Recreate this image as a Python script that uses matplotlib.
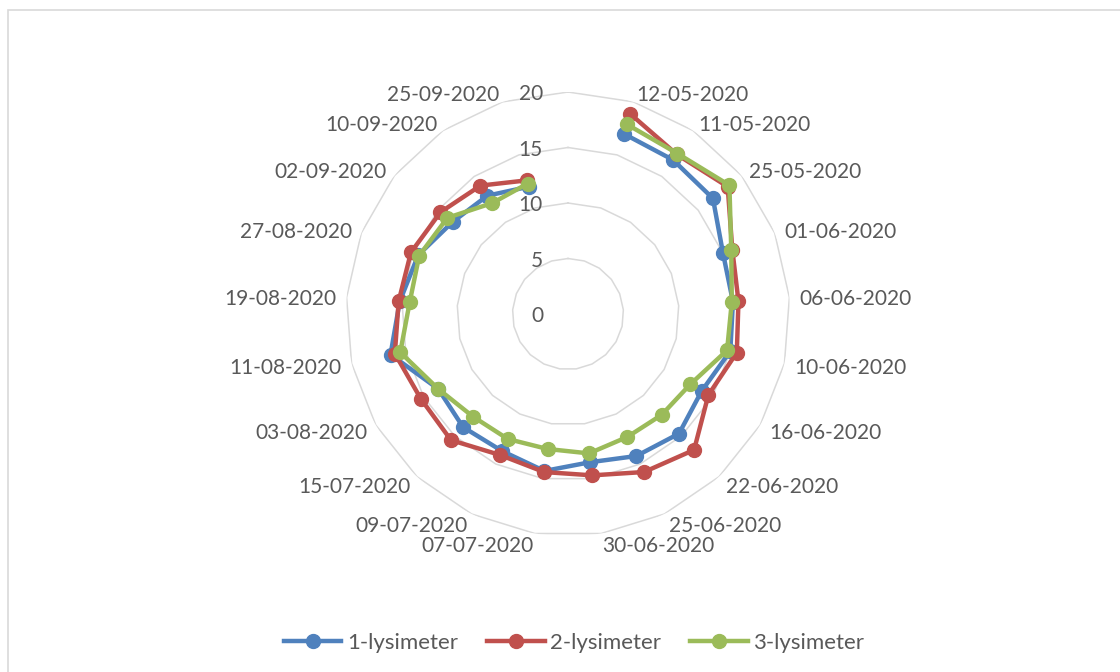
import numpy as np
import matplotlib
matplotlib.use("Agg")
import matplotlib.pyplot as plt
from matplotlib.patches import Rectangle

plt.rcParams['font.family'] = ['Lato', 'DejaVu Sans']

# Categories (first one is blank in the source sheet, so the series have a gap at the top)
dates = ['', '12-05-2020', '11-05-2020', '25-05-2020', '01-06-2020', '06-06-2020',
         '10-06-2020', '16-06-2020', '22-06-2020', '25-06-2020', '30-06-2020',
         '07-07-2020', '09-07-2020', '15-07-2020', '03-08-2020', '11-08-2020',
         '19-08-2020', '27-08-2020', '02-09-2020', '10-09-2020', '25-09-2020']

lys1 = [np.nan, 17.0, 16.8, 16.7, 15.0, 14.9, 15.0, 13.9, 14.7, 14.2, 13.5,
        14.3, 13.7, 13.9, 13.5, 16.4, 15.2, 14.5, 13.3, 12.9, 12.0]
lys2 = [np.nan, 18.9, 17.4, 18.4, 15.9, 15.4, 15.6, 14.6, 16.7, 15.8, 14.7,
        14.4, 14.1, 15.5, 15.3, 16.0, 15.3, 15.2, 14.7, 14.0, 12.6]
lys3 = [np.nan, 17.9, 17.5, 18.6, 15.8, 14.8, 14.7, 12.7, 12.4, 12.3, 12.7,
        12.3, 12.5, 12.6, 13.5, 15.5, 14.3, 14.4, 13.9, 12.1, 12.3]

series_names = ['1-lysimeter', '2-lysimeter', '3-lysimeter']
colors = ['#4F81BD', '#C0504D', '#9BBB59']
rings = [0, 5, 10, 15, 20]

text_color = '#595959'
grid_color = '#D9D9D9'

n = len(dates)
angles = np.arange(n) * 2 * np.pi / n

fig = plt.figure(figsize=(11.2, 6.72), dpi=100)

# light chart-area border (right and bottom edges are cut off in the reference)
fig.patches.append(Rectangle((8 / 1120, -0.1), 1.2, 1.1 - 10 / 672,
                             transform=fig.transFigure, fill=False,
                             edgecolor=grid_color, linewidth=1.2))

# polar axes placed so the centre is at (568, 314) px with radius 222 px
ax = fig.add_axes([(568 - 222) / 1120, (672 - 314 - 222) / 672, 444 / 1120, 444 / 672],
                  projection='polar')
ax.set_theta_zero_location('N')
ax.set_theta_direction(-1)
ax.set_ylim(0, 20)
ax.axis('off')

# polygon grid rings
closed = np.append(angles, angles[0])
for r in rings[1:]:
    ax.plot(closed, [r] * len(closed), color=grid_color, linewidth=1.1, zorder=1)

# value axis labels, left of the vertical axis
for r in rings:
    ax.annotate(str(r), xy=(0, r), xytext=(-18, -1.5), textcoords='offset points',
                ha='right', va='center', fontsize=15, color=text_color,
                annotation_clip=False)

# category labels just outside the outer ring
for a, lab in zip(angles, dates):
    if not lab:
        continue
    ha = 'left' if np.sin(a) > 0 else 'right'
    ax.annotate(lab, xy=(a, 20.9), xytext=(0, -2), textcoords='offset points',
                ha=ha, va='center', fontsize=15, color=text_color,
                annotation_clip=False)

for vals, name, c in zip([lys1, lys2, lys3], series_names, colors):
    ax.plot(angles, vals, color=c, linewidth=3.2, marker='o', markersize=10,
            label=name, zorder=3)

fig.legend(loc='center', bbox_to_anchor=(574 / 1120, 29 / 672), ncol=3,
           frameon=False, fontsize=16, handlelength=2.6, handletextpad=0.25,
           columnspacing=1.3, labelcolor=text_color)

fig.savefig('out.png', dpi=100, facecolor='white')
